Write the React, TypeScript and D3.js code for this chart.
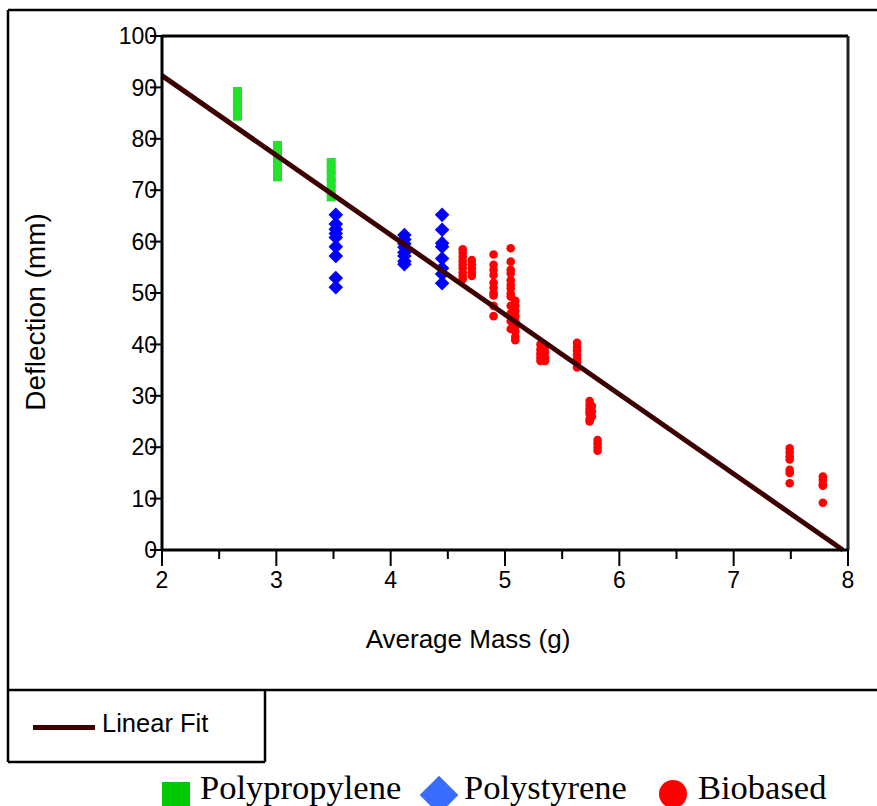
import React from "react";
import * as d3 from "d3";

// ---- data ----
const ppMass = [2.66, 3.01, 3.48];
const ppDeflection = [
  [89.2, 88.2, 87.2, 86.2, 85.3, 84.4],
  [78.7, 77.5, 76.3, 75.0, 73.8, 72.6],
  [75.4, 74.0, 72.7, 71.4, 70.0, 68.7],
];
const psMass = [3.52, 4.12, 4.45];
const psDeflection = [
  [65.2, 63.4, 62.4, 61.6, 60.8, 59.0, 57.2, 52.9, 51.1],
  [61.3, 60.4, 59.6, 58.9, 57.9, 57.2, 56.2, 55.6],
  [65.2, 62.3, 59.7, 59.0, 56.7, 54.8, 53.7, 51.9],
];
const bioMass = [4.63, 4.71, 4.9, 5.05, 5.09, 5.31, 5.35, 5.63, 5.74, 5.76, 5.81, 7.49, 7.78];
const bioDeflection = [
  [58.5, 57.8, 57.0, 56.2, 55.5, 54.8, 54.0, 53.3, 52.7],
  [56.4, 55.6, 54.8, 54.0, 53.3],
  [57.5, 55.5, 54.5, 53.5, 52.0, 51.0, 50.0, 49.5, 47.5, 45.5],
  [58.7, 56.1, 54.5, 53.8, 52.5, 51.6, 50.9, 49.9, 49.3, 47.5, 46.0, 44.5, 43.0],
  [48.5, 47.5, 46.5, 45.5, 44.5, 43.5, 42.5, 41.5, 40.8],
  [40.0, 39.0, 38.2, 37.5, 36.8],
  [39.5, 38.5, 37.5, 36.8],
  [40.3, 39.5, 38.8, 38.0, 37.3, 36.5, 35.5],
  [29.0, 28.2, 27.5, 27.0, 26.5, 25.5, 25.0],
  [28.0, 27.0, 26.0],
  [21.4, 20.7, 20.0, 19.3],
  [19.8, 19.0, 18.2, 17.6, 15.6, 15.0, 13.0],
  [14.3, 13.6, 12.8, 12.5, 9.2],
];
const fitIntercept = 123.3;
const fitSlope = -15.5;
const xTicks = [2, 3, 4, 5, 6, 7, 8];
const xMinorTicks = [2.5, 3.5, 4.5, 5.5, 6.5, 7.5];
const yTicks = [0, 10, 20, 30, 40, 50, 60, 70, 80, 90, 100];
const legendItems = ["Polypropylene", "Polystyrene", "Biobased"];

const SANS = "'Liberation Sans', Arial, sans-serif";
const SERIF = "'Liberation Serif', 'Times New Roman', serif";

export default function App() {
  const x = d3.scaleLinear().domain([2, 8]).range([162, 848]);
  const y = d3.scaleLinear().domain([0, 100]).range([550, 36]);

  const flat = (masses: number[], defl: number[][]) =>
    masses.flatMap((m, i) => defl[i].map((v) => [m, v] as [number, number]));

  const pp = flat(ppMass, ppDeflection);
  const ps = flat(psMass, psDeflection);
  const bio = flat(bioMass, bioDeflection);

  const xEnd = -fitIntercept / fitSlope;
  const fitLine = d3.line<number>()
    .x((m) => x(m))
    .y((m) => y(fitIntercept + fitSlope * m));

  const diamond = d3.symbol().type(d3.symbolDiamond2).size(135)() as string;
  const bigDiamond = d3.symbol().type(d3.symbolDiamond2).size(950)() as string;

  return (
    <svg width={877} height={806} style={{ position: "absolute", left: 0, top: 0, background: "#fff" }}>
      {/* outer frame */}
      <g stroke="#000" strokeWidth={2.5} fill="none">
        <line x1={8} y1={10} x2={877} y2={10} />
        <line x1={8} y1={10} x2={8} y2={762} />
        <line x1={8} y1={690} x2={877} y2={690} />
        <line x1={265} y1={690} x2={265} y2={762} />
        <line x1={8} y1={762} x2={265} y2={762} />
      </g>

      {/* plot frame top/right */}
      <line x1={x(2)} y1={y(100)} x2={x(8)} y2={y(100)} stroke="#000" strokeWidth={3} />
      <line x1={x(8)} y1={y(100)} x2={x(8)} y2={y(0)} stroke="#222" strokeWidth={3} />

      {/* markers */}
      <g fill="#22e22a">
        {pp.map(([m, v], i) => (
          <rect key={i} x={x(m) - 4.5} y={y(v) - 4.5} width={9} height={9} />
        ))}
      </g>
      <g fill="#0000ff">
        {ps.map(([m, v], i) => (
          <path key={i} d={diamond} transform={`translate(${x(m)},${y(v)})`} />
        ))}
      </g>
      <g fill="#ff0000">
        {bio.map(([m, v], i) => (
          <circle key={i} cx={x(m)} cy={y(v)} r={4.3} />
        ))}
      </g>

      {/* linear fit */}
      <path d={fitLine([2, xEnd]) as string} stroke="#3d0000" strokeWidth={5} fill="none" />

      {/* axes */}
      <line x1={x(2)} y1={y(0)} x2={x(8)} y2={y(0)} stroke="#000" strokeWidth={3} />
      <line x1={x(2)} y1={y(0)} x2={x(2)} y2={y(100)} stroke="#000" strokeWidth={3} />
      {xTicks.map((t) => (
        <g key={t}>
          <line x1={x(t)} y1={y(0)} x2={x(t)} y2={y(0) + 16} stroke="#000" strokeWidth={2} />
          <text x={x(t)} y={588} textAnchor="middle" fontFamily={SANS} fontSize={23} fill="#000">
            {t}
          </text>
        </g>
      ))}
      {xMinorTicks.map((t) => (
        <line key={t} x1={x(t)} y1={y(0)} x2={x(t)} y2={y(0) + 9} stroke="#000" strokeWidth={2} />
      ))}
      {yTicks.map((t) => (
        <g key={t}>
          <text x={157} y={y(t)} dy="0.36em" textAnchor="end" fontFamily={SANS} fontSize={23} fill="#000">
            {t}
          </text>
          <line x1={x(2) - 12} y1={y(t)} x2={x(2)} y2={y(t)} stroke="#000" strokeWidth={2} />
        </g>
      ))}

      {/* axis titles */}
      <text x={468} y={648} textAnchor="middle" fontFamily={SANS} fontSize={26} fill="#000">
        Average Mass (g)
      </text>
      <text
        transform={`translate(45,312) rotate(-90)`}
        textAnchor="middle"
        fontFamily={SANS}
        fontSize={28}
        fill="#000"
      >
        Deflection (mm)
      </text>

      {/* linear fit legend */}
      <line x1={33} y1={727.5} x2={95} y2={727.5} stroke="#3d0000" strokeWidth={5} />
      <text x={102} y={732} fontFamily={SANS} fontSize={25.5} fill="#000">
        Linear Fit
      </text>

      {/* bottom legend */}
      <rect x={162} y={782} width={28} height={28} fill="#00c800" />
      <text x={200} y={799} fontFamily={SERIF} fontSize={34.5} fill="#000">
        {legendItems[0]}
      </text>
      <path d={bigDiamond} transform="translate(439,795)" fill="#3a6cff" />
      <text x={464} y={799} fontFamily={SERIF} fontSize={34.5} fill="#000">
        {legendItems[1]}
      </text>
      <circle cx={673} cy={794} r={14} fill="#ff0000" />
      <text x={698} y={799} fontFamily={SERIF} fontSize={34.5} fill="#000">
        {legendItems[2]}
      </text>
    </svg>
  );
}
